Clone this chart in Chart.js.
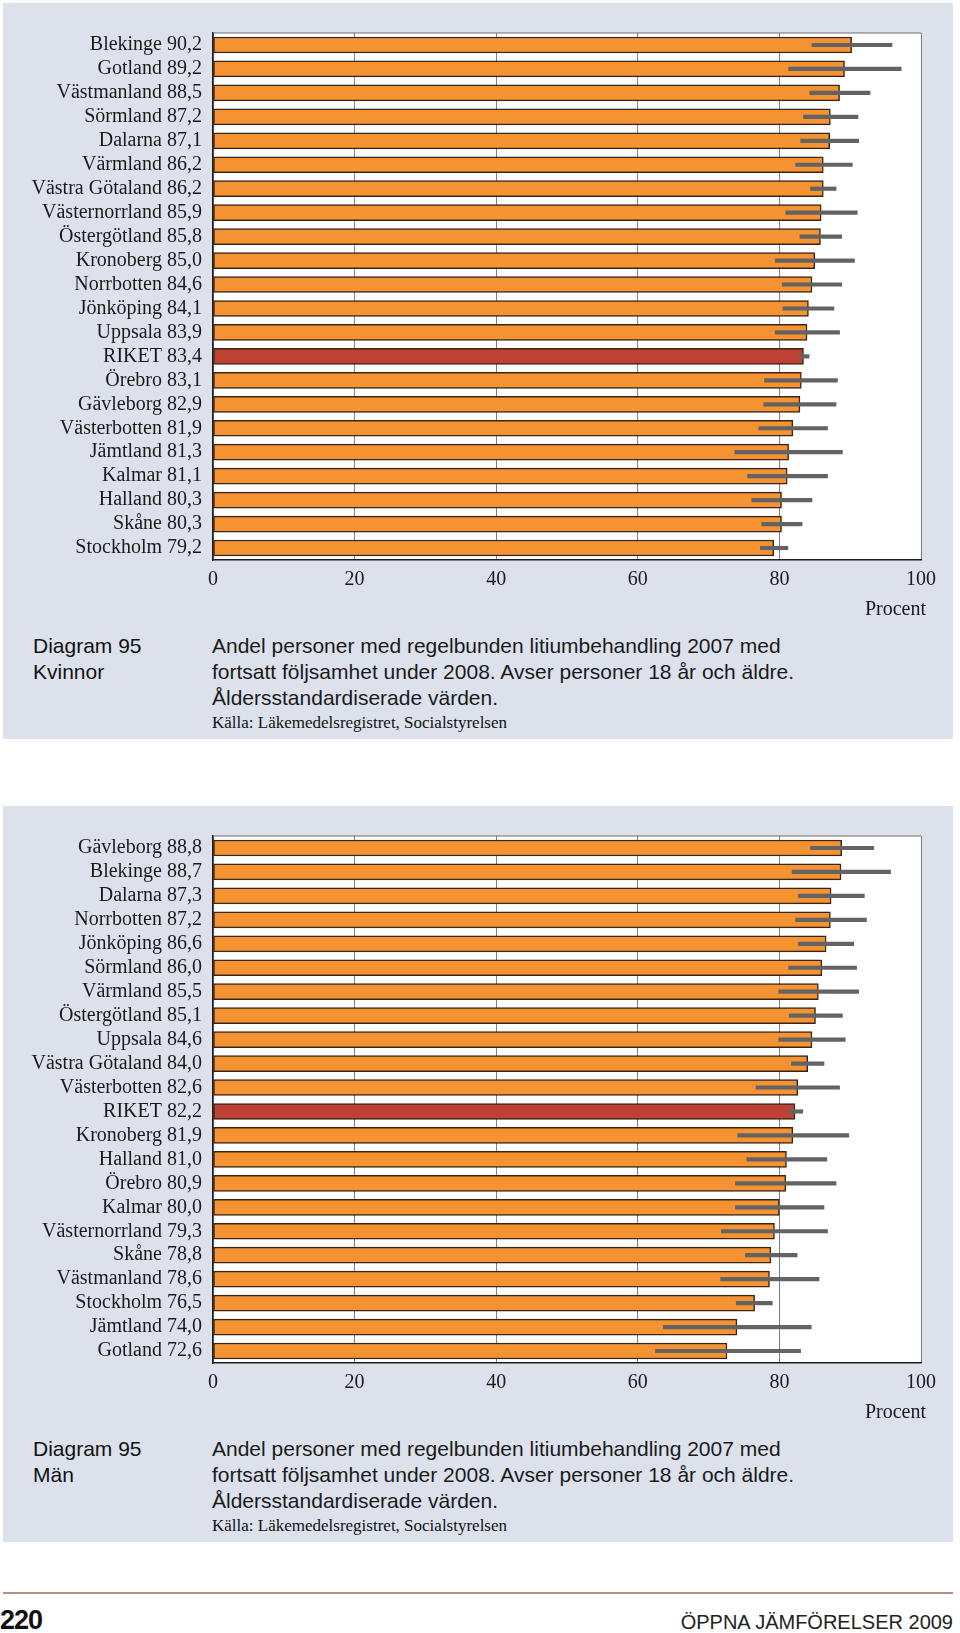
<!DOCTYPE html>
<html>
<head>
<meta charset="utf-8">
<script src="https://cdn.jsdelivr.net/npm/chart.js@4.4.1/dist/chart.umd.min.js"></script>
<style>
  html, body { margin: 0; padding: 0; background: #ffffff; }
  body { width: 960px; height: 1633px; position: relative; overflow: hidden; }
  .panel { position: absolute; left: 3px; width: 950px; height: 736px; background: #dde1ec; }
  canvas.chart { position: absolute; left: 0; }
  .procent { position: absolute; left: 0; width: 926px; text-align: right; font: 20px "Liberation Serif", serif; line-height: 24px; color: #1a1a1a; }
  .diag { position: absolute; left: 33px; font: 21px "Liberation Sans", Arial, sans-serif; line-height: 26px; color: #111; }
  .cap { position: absolute; left: 212px; font: 21px "Liberation Sans", Arial, sans-serif; line-height: 26px; color: #1a1a1a; white-space: nowrap; }
  .src { position: absolute; left: 212px; font: 17px "Liberation Serif", serif; line-height: 18px; color: #111; white-space: nowrap; }
  .rule { position: absolute; left: 3px; width: 950px; top: 1592px; height: 2px; background: #b98c86; }
  .pageno { position: absolute; left: 0; top: 1607px; font: bold 27px "Liberation Sans", Arial, sans-serif; line-height: 27px; letter-spacing: -1px; color: #111; }
  .runhead { position: absolute; right: 7px; top: 1612px; font: 20px "Liberation Sans", Arial, sans-serif; line-height: 20px; color: #222; }
</style>
</head>
<body>

<div class="panel" style="top:3px"></div>
<div class="panel" style="top:806px"></div>

<canvas id="cWomen" class="chart" width="960" height="610" style="top:0px"></canvas>
<canvas id="cMen" class="chart" width="960" height="610" style="top:803px"></canvas>

<div class="procent" style="top:596px">Procent</div>
<div class="diag" style="top:633px">Diagram 95<br>Kvinnor</div>
<div class="cap" style="top:633px">Andel personer med regelbunden litiumbehandling 2007 med<br>fortsatt följsamhet under 2008. Avser personer 18 år och äldre.<br>Åldersstandardiserade värden.</div>
<div class="src" style="top:714px">Källa: Läkemedelsregistret, Socialstyrelsen</div>

<div class="procent" style="top:1399px">Procent</div>
<div class="diag" style="top:1436px">Diagram 95<br>Män</div>
<div class="cap" style="top:1436px">Andel personer med regelbunden litiumbehandling 2007 med<br>fortsatt följsamhet under 2008. Avser personer 18 år och äldre.<br>Åldersstandardiserade värden.</div>
<div class="src" style="top:1517px">Källa: Läkemedelsregistret, Socialstyrelsen</div>

<div class="rule"></div>
<div class="pageno">220</div>
<div class="runhead">ÖPPNA JÄMFÖRELSER 2009</div>

<script>
// ---------- DATA ----------
const womenRegions = ["Blekinge","Gotland","Västmanland","Sörmland","Dalarna","Värmland","Västra Götaland","Västernorrland","Östergötland","Kronoberg","Norrbotten","Jönköping","Uppsala","RIKET","Örebro","Gävleborg","Västerbotten","Jämtland","Kalmar","Halland","Skåne","Stockholm"];
const womenValues  = [90.2,89.2,88.5,87.2,87.1,86.2,86.2,85.9,85.8,85.0,84.6,84.1,83.9,83.4,83.1,82.9,81.9,81.3,81.1,80.3,80.3,79.2];
const womenLow     = [84.6,81.3,84.3,83.4,83.0,82.3,84.4,80.9,82.9,79.4,80.4,80.5,79.4,82.8,77.9,77.8,77.1,73.7,75.5,76.1,77.5,77.3];
const womenHigh    = [95.9,97.2,92.8,91.1,91.2,90.3,88.0,91.0,88.8,90.6,88.8,87.7,88.5,84.2,88.2,88.0,86.8,88.9,86.8,84.6,83.2,81.2];

const menRegions = ["Gävleborg","Blekinge","Dalarna","Norrbotten","Jönköping","Sörmland","Värmland","Östergötland","Uppsala","Västra Götaland","Västerbotten","RIKET","Kronoberg","Halland","Örebro","Kalmar","Västernorrland","Skåne","Västmanland","Stockholm","Jämtland","Gotland"];
const menValues  = [88.8,88.7,87.3,87.2,86.6,86.0,85.5,85.1,84.6,84.0,82.6,82.2,81.9,81.0,80.9,80.0,79.3,78.8,78.6,76.5,74.0,72.6];
const menLow     = [84.4,81.8,82.7,82.3,82.7,81.3,79.9,81.4,79.9,81.7,76.7,81.3,74.1,75.4,73.8,73.8,71.8,75.2,71.7,73.9,63.6,62.5];
const menHigh    = [93.3,95.7,92.0,92.3,90.5,90.9,91.2,88.9,89.3,86.3,88.5,83.3,89.8,86.7,88.0,86.3,86.8,82.5,85.6,79.0,84.5,83.0];

const xTickValues = [0, 20, 40, 60, 80, 100];
const totalLabel = "RIKET";

// ---------- STYLE ----------
const ORANGE = "#f59232";
const RED = "#be4134";
const BAR_BORDER = "#3a2616";
const ERR = "#636363";
const SERIF = '"Liberation Serif", "Times New Roman", serif';

const framePlugin = {
  id: 'frame',
  beforeDraw(chart) {
    const {ctx, chartArea: a} = chart;
    ctx.save();
    ctx.fillStyle = '#ffffff';
    ctx.fillRect(a.left, a.top, a.right - a.left, a.bottom - a.top);
    ctx.restore();
  },
  afterDraw(chart) {
    const {ctx, chartArea: a} = chart;
    ctx.save();
    ctx.strokeStyle = '#6e6e6e';
    ctx.lineWidth = 1.2;
    ctx.beginPath();
    ctx.moveTo(a.left, a.top);
    ctx.lineTo(a.right, a.top);
    ctx.stroke();
    ctx.restore();
  }
};

function fmt(v) { return v.toFixed(1).replace('.', ','); }

function makeChart(id, regions, values, low, high) {
  const colors = regions.map(r => r === totalLabel ? RED : ORANGE);
  const intervals = low.map((l, i) => [l, high[i]]);
  return new Chart(document.getElementById(id), {
    type: 'bar',
    data: {
      labels: regions,
      datasets: [
        {
          label: 'Andel',
          data: values,
          backgroundColor: colors,
          borderColor: BAR_BORDER,
          borderWidth: 1.5,
          borderSkipped: false,
          barThickness: 16,
          grouped: false,
          order: 2,
          yAxisID: 'y'
        },
        {
          label: 'Konfidensintervall',
          data: intervals,
          backgroundColor: ERR,
          borderWidth: 0,
          barThickness: 3.5,
          grouped: false,
          order: 1,
          yAxisID: 'y'
        }
      ]
    },
    options: {
      indexAxis: 'y',
      responsive: false,
      animation: false,
      devicePixelRatio: 1,
      layout: { padding: { left: 0, top: 33, right: 39, bottom: 20 } },
      plugins: { legend: { display: false }, tooltip: { enabled: false } },
      scales: {
        x: {
          type: 'linear',
          position: 'bottom',
          min: 0,
          max: 100,
          afterBuildTicks(scale) { scale.ticks = xTickValues.map(v => ({ value: v })); },
          afterFit(scale) { scale.height = 30; },
          grid: { color: '#7f7f7f', lineWidth: 1, drawTicks: false },
          border: { display: true, color: '#1e1e1e', width: 1.5 },
          ticks: { font: { family: SERIF, size: 20 }, color: '#1a1a1a', padding: 8 }
        },
        y: {
          type: 'category',
          position: 'left',
          weight: 0,
          offset: true,
          afterFit(scale) { scale.width = 48; },
          grid: { display: false, drawTicks: false },
          border: { display: true, color: '#1e1e1e', width: 1.5 },
          ticks: {
            autoSkip: false,
            padding: 11,
            font: { family: SERIF, size: 20 },
            color: '#1a1a1a',
            callback(val, index) { return fmt(values[index]); }
          }
        },
        yNames: {
          type: 'category',
          position: 'left',
          weight: 1,
          offset: true,
          labels: regions,
          afterFit(scale) { scale.width = 165; },
          grid: { display: false, drawTicks: false },
          border: { display: false },
          ticks: {
            autoSkip: false,
            padding: 3,
            font: { family: SERIF, size: 20 },
            color: '#1a1a1a'
          }
        }
      }
    },
    plugins: [framePlugin]
  });
}

makeChart('cWomen', womenRegions, womenValues, womenLow, womenHigh);
makeChart('cMen', menRegions, menValues, menLow, menHigh);
</script>
</body>
</html>
